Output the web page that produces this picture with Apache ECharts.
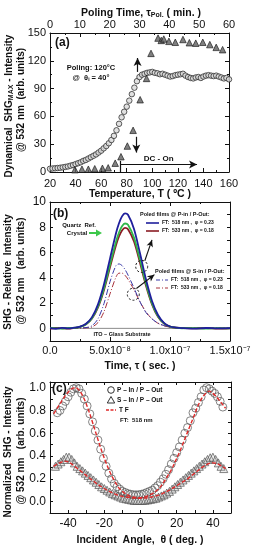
<!DOCTYPE html>
<html><head><meta charset="utf-8">
<script src="https://cdn.jsdelivr.net/npm/echarts@6/dist/echarts.min.js"></script>
<style>html,body{margin:0;padding:0;background:#fff}#c{width:256px;height:550px}</style>
</head><body><div id="c"></div>
<script>
// ---------- Panel (a) : SHG vs temperature ----------
const aTempC = [20,22,24,26,28,30,32,34,36,38,40,42,44,46,48,50,52,54,56,58,60,62,64,66,68,70,72,74,76,78,80,82,84,86,88,90,92,94,96,98,100,102,104,106,108,110,112,114,116,118,120,122,124,126,128,130,132,134,136,138,140,142,144,146,148,150,152,154,156,158,160];
const aCircleSHG = [3.5,3.8,4,4.3,4.6,5,5.5,6,6.8,7.5,8.5,9.5,10.5,12,13,14.5,16,17.5,19,21,23,25.5,28,31,34.5,39,45,52,59,65,70.5,77,84,91,98,102.5,105,106,107,107.5,108,107,106.5,105.5,106,105,104,103,103.5,104.5,105,105.5,106,104,102.5,101.5,101,102,102.5,101.5,103,104,104.5,104,103.5,104,103,102,101,101.5,100];
const aTriTempC = [39.5,45,50,55,61,65.5,71,75.5,80.5,85,90.5,95.5,99,104.5,107,109,113,118,124,129,134,139.5,145,150,155];
const aTriSHG = [2.5,3,3,3.5,4,4.5,9.5,16.5,28,45,78,101,128,144.5,142,143.5,141,140,143,139.5,139,140,137.5,134.5,132];
const aTempTicks = [20,160,20];   // min, max, step
const aTimeTicks = [0,60,10];
const aSHGTicks = [0,150,30];

// ---------- Panel (b) : SHG vs time ----------
const bTimeSec = [0,0.5e-8,1e-8,1.5e-8,2e-8,2.5e-8,3e-8,3.5e-8,4e-8,4.5e-8,5e-8,5.5e-8,5.75e-8,6e-8,6.25e-8,6.5e-8,7e-8,7.5e-8,8e-8,8.5e-8,9e-8,9.5e-8,1e-7,1.05e-7,1.1e-7,1.2e-7,1.3e-7,1.4e-7,1.5e-7];
const bP518 = [0.02,-0.03,0.04,0,0.05,0.13,0.36,0.89,1.9,3.49,5.52,7.53,8.32,8.86,9.1,8.99,7.87,5.94,3.87,2.17,1.06,0.44,0.15,0.06,0.02,-0.02,0.03,0,0.02];
const bQuartz = [0.03,0,-0.02,0.03,0.04,0.12,0.33,0.81,1.73,3.18,5.04,6.86,7.59,8.08,8.3,8.2,7.18,5.42,3.53,1.98,0.96,0.4,0.14,0.05,0.01,0.02,-0.01,0.02,0];
const bP533 = [-0.02,0.03,0.01,-0.02,0.03,0.11,0.32,0.78,1.66,3.04,4.83,6.57,7.27,7.74,7.95,7.85,6.88,5.19,3.38,1.9,0.92,0.38,0.14,0.05,0.03,0,0.02,-0.02,0.01];
const bS518 = [0.05,0.02,0.06,0.03,0.05,0.04,0.06,0.21,0.76,1.97,3.69,4.97,5.1,4.97,4.66,4.22,3.2,2.1,1.25,0.75,0.42,0.22,0.1,0.06,0.04,0.03,0.05,0.02,0.03];
const bS533 = [0.03,0.05,0.02,0.04,0.03,0.02,0.04,0.11,0.46,1.32,2.73,4.06,4.37,4.37,4.2,3.88,3.05,2.1,1.3,0.75,0.4,0.2,0.1,0.06,0.04,0.05,0.03,0.04,0.02];
const bItoTime = [0,1.5e-7];
const bItoSHG = [0,0];

// ---------- Panel (c) : normalized SHG vs incident angle ----------
const cAngleP = [-46,-44.5,-43,-41.5,-40,-38.5,-37,-35.5,-34,-32.5,-31,-29.5,-28,-26.5,-25,-23.5,-22,-20.5,-19,-17.5,-16,-14.5,-13,-11.5,-10,-8.5,-7,-5.5,-4,-2.5,-1,0.5,2,3.5,5,6.5,8,9.5,11,12.5,14,15.5,17,18.5,20,21.5,23,24.5,26,27.5,29,30.5,32,33.5,35,36.5,38,39.5,41,42.5,44,45.5];
const cPinPout = [0.78,0.8,0.84,0.88,0.92,0.96,0.99,1.0,0.99,0.95,0.9,0.84,0.77,0.7,0.62,0.54,0.46,0.38,0.31,0.25,0.2,0.16,0.13,0.11,0.09,0.08,0.07,0.065,0.06,0.06,0.06,0.065,0.07,0.08,0.09,0.1,0.12,0.14,0.17,0.2,0.24,0.28,0.33,0.38,0.43,0.48,0.54,0.6,0.65,0.71,0.78,0.82,0.87,0.92,0.98,1.0,0.99,0.97,0.95,0.92,0.88,0.83];
const cAngleS = [-47,-45.5,-44,-42.5,-41,-39.5,-38,-36.5,-35,-33.5,-32,-30.5,-29,-27.5,-26,-24.5,-23,-21.5,-20,-18.5,-17,-15.5,-14,-12.5,-11,-9.5,-8,-6.5,-5,-3.5,-2,-0.5,1,2.5,4,5.5,7,8.5,10,11.5,13,14.5,16,17.5,19,20.5,22,23.5,25,26.5,28,29.5,31,32.5,34,35.5,37,38.5,40,41.5,43,44.5,46];
const cSinPout = [0.31,0.33,0.35,0.37,0.39,0.39,0.37,0.34,0.31,0.29,0.27,0.25,0.23,0.21,0.19,0.17,0.15,0.13,0.115,0.1,0.085,0.07,0.06,0.05,0.04,0.03,0.025,0.02,0.015,0.01,0.01,0.01,0.01,0.012,0.015,0.02,0.025,0.03,0.04,0.05,0.06,0.075,0.09,0.11,0.13,0.15,0.17,0.19,0.21,0.23,0.25,0.27,0.29,0.31,0.33,0.35,0.37,0.385,0.39,0.37,0.34,0.31,0.29];
const cFitAngle = [-48,-46,-44,-42,-40,-38,-36,-34,-32,-30,-28,-26,-24,-22,-20,-18,-16,-14,-12,-10,-8,-6,-4,-2,0,2,4,6,8,10,12,14,16,18,20,22,24,26,28,30,32,34,36,38,40,42,44,46,47];
const cFitP = [0.77,0.82,0.87,0.92,0.96,0.99,1.0,0.98,0.93,0.86,0.77,0.67,0.57,0.47,0.38,0.3,0.23,0.17,0.12,0.09,0.065,0.05,0.04,0.035,0.035,0.04,0.05,0.065,0.085,0.11,0.15,0.2,0.25,0.31,0.38,0.45,0.53,0.61,0.69,0.77,0.85,0.91,0.95,0.97,0.95,0.92,0.88,0.84,0.82];
const cFitS = [0.31,0.33,0.345,0.355,0.35,0.33,0.305,0.28,0.255,0.23,0.205,0.18,0.155,0.135,0.115,0.097,0.08,0.066,0.055,0.046,0.04,0.035,0.032,0.03,0.03,0.031,0.034,0.04,0.047,0.057,0.07,0.085,0.1,0.12,0.14,0.16,0.18,0.2,0.225,0.25,0.275,0.3,0.32,0.335,0.34,0.335,0.32,0.3,0.29];

const FONT = '"Liberation Sans", Arial, Helvetica, sans-serif';
const zip = (xs, ys) => xs.map((x, i) => [x, ys[i]]);

function axis(o) {
  const base = {
    type: 'value',
    axisLine: { show: true, onZero: false, lineStyle: { color: '#111', width: 1 } },
    axisTick: { show: true, inside: true, length: 4, lineStyle: { color: '#111' } },
    minorTick: { show: true, splitNumber: 2, length: 2, lineStyle: { color: '#111' } },
    splitLine: { show: false },
    axisLabel: { show: true, color: '#111', fontSize: 11, fontFamily: FONT, margin: 4 }
  };
  const r = Object.assign({}, base, o);
  ['axisLine','axisTick','minorTick','axisLabel'].forEach(k => {
    if (o[k]) r[k] = Object.assign({}, base[k], o[k]);
  });
  return r;
}
const noLab = { show: false };
const SUP = { '-': '⁻', '0': '⁰', '1': '¹', '2': '²', '3': '³', '4': '⁴', '5': '⁵', '6': '⁶', '7': '⁷', '8': '⁸', '9': '⁹' };
function sciFmt(v) {
  if (Math.abs(v) < 1e-12) return '0.0';
  const e = Math.floor(Math.log10(v) + 1e-9);
  const m = v / Math.pow(10, e);
  return m.toFixed(1) + 'x10' + String(e).split('').map(c => SUP[c]).join('');
}

const chart = echarts.init(document.getElementById('c'), null, { renderer: 'canvas' });

const grids = [
  { left: 50, top: 33, width: 179, height: 139 },
  { left: 50, top: 202, width: 180, height: 139 },
  { left: 50, top: 382, width: 181, height: 131 }
];

const xAxes = [
  axis({ gridIndex: 0, position: 'bottom', min: aTempTicks[0], max: aTempTicks[1], interval: aTempTicks[2], axisLabel: { margin: 6 } }),
  axis({ gridIndex: 0, position: 'top', min: aTimeTicks[0], max: aTimeTicks[1], interval: aTimeTicks[2], axisLabel: { margin: 3 } }),
  axis({ gridIndex: 1, position: 'bottom', min: 0, max: 1.5e-7, interval: 5e-8, axisLabel: { margin: 4, formatter: sciFmt } }),
  axis({ gridIndex: 1, position: 'top', min: 0, max: 1.5e-7, interval: 5e-8, axisLabel: noLab }),
  axis({ gridIndex: 2, position: 'bottom', min: -50, max: 50, interval: 10, minorTick: { show: false }, axisTick: { length: 3 },
         axisLabel: { fontSize: 12, margin: 5, formatter: v => (Math.round(v) % 20 === 0 && Math.abs(v) <= 40) ? String(Math.round(v)) : '' } }),
  axis({ gridIndex: 2, position: 'top', min: -50, max: 50, interval: 10, minorTick: { show: false }, axisTick: { length: 3 }, axisLabel: noLab })
];
const yAxes = [
  axis({ gridIndex: 0, position: 'left', min: aSHGTicks[0], max: aSHGTicks[1], interval: aSHGTicks[2], axisLabel: { margin: 4 } }),
  axis({ gridIndex: 0, position: 'right', min: aSHGTicks[0], max: aSHGTicks[1], interval: aSHGTicks[2], axisLabel: noLab }),
  axis({ gridIndex: 1, position: 'left', min: -1, max: 10, interval: 1, minorTick: { show: false }, axisTick: { length: 3 },
         axisLabel: { fontSize: 12, margin: 4, formatter: v => (Math.round(v) >= 0 && Math.round(v) % 2 === 0) ? String(Math.round(v)) : '' } }),
  axis({ gridIndex: 1, position: 'right', min: -1, max: 10, interval: 1, minorTick: { show: false }, axisTick: { length: 3 }, axisLabel: noLab }),
  axis({ gridIndex: 2, position: 'left', min: -0.1, max: 1.05, interval: 0.1, minorTick: { show: false }, axisTick: { length: 3 },
         axisLabel: { fontSize: 12, margin: 4, formatter: v => { const r = Math.round(v * 10); return (r >= 0 && r % 2 === 0 && r <= 10) ? (r / 10).toFixed(1) : ''; } } }),
  axis({ gridIndex: 2, position: 'right', min: -0.1, max: 1.05, interval: 0.1, minorTick: { show: false }, axisTick: { length: 3 }, axisLabel: noLab })
];

const arrowLine = { color: '#111', width: 1.2, type: 'solid' };

const series = [
  // (a)
  { type: 'scatter', xAxisIndex: 0, yAxisIndex: 0, data: zip(aTempC, aCircleSHG), symbol: 'circle', symbolSize: 5.5,
    itemStyle: { color: '#d9d9d9', borderColor: '#333', borderWidth: 1 }, z: 3,
    markLine: { silent: true, symbol: ['none', 'arrow'], symbolSize: [6, 8], lineStyle: arrowLine, label: { show: false },
      data: [
        [{ coord: [88.5, 108] }, { coord: [88.5, 123] }],
        [{ coord: [87.5, 38] }, { coord: [87.5, 21] }],
        [{ coord: [75, 0], symbol: 'none' }, { coord: [75, 12], symbol: 'none' }],
        [{ coord: [75, 8] }, { coord: [135, 8], label: { show: true, position: 'middle', formatter: 'DC - On', fontSize: 8, fontWeight: 'bold', fontFamily: FONT, color: '#111', distance: 2 } }]
      ] } },
  { type: 'scatter', xAxisIndex: 0, yAxisIndex: 0, data: zip(aTriTempC, aTriSHG), symbol: 'triangle', symbolSize: 6.5,
    itemStyle: { color: '#5f5f5f', borderColor: '#111', borderWidth: 0.8 }, z: 4 },
  // (b)
  { type: 'line', xAxisIndex: 2, yAxisIndex: 2, data: zip(bItoTime, bItoSHG), showSymbol: false, lineStyle: { color: '#8c8c8c', width: 1 }, z: 1 },
  { type: 'line', xAxisIndex: 2, yAxisIndex: 2, data: zip(bTimeSec, bS533), showSymbol: false, smooth: 0.3, lineStyle: { color: '#a8323c', width: 1, type: [6, 2, 1, 2] }, z: 2 },
  { type: 'line', xAxisIndex: 2, yAxisIndex: 2, data: zip(bTimeSec, bS518), showSymbol: false, smooth: 0.3, lineStyle: { color: '#3a3aa8', width: 1, type: [6, 2, 1, 2] }, z: 2 },
  { type: 'line', xAxisIndex: 2, yAxisIndex: 2, data: zip(bTimeSec, bP533), showSymbol: false, smooth: 0.3, lineStyle: { color: '#8a1c24', width: 1.8 }, z: 3 },
  { type: 'line', xAxisIndex: 2, yAxisIndex: 2, data: zip(bTimeSec, bQuartz), showSymbol: false, smooth: 0.3, lineStyle: { color: '#2fb84a', width: 1.8 }, z: 3 },
  { type: 'line', xAxisIndex: 2, yAxisIndex: 2, data: zip(bTimeSec, bP518), showSymbol: false, smooth: 0.3, lineStyle: { color: '#1f1f9c', width: 1.8 }, z: 4,
    markPoint: { silent: true, symbol: 'circle', symbolSize: 12, label: { show: false },
      itemStyle: { color: 'rgba(0,0,0,0)', borderColor: '#111', borderWidth: 1, borderType: [2, 2] },
      data: [{ coord: [7.64e-8, 4.9] }, { coord: [6.94e-8, 2.7] }] },
    markLine: { silent: true, symbol: ['none', 'arrow'], symbolSize: [5, 7], lineStyle: { color: '#111', width: 1.1, type: 'solid' }, label: { show: false },
      data: [
        [{ coord: [7.9e-8, 5.35] }, { coord: [8.5e-8, 7.0] }],
        [{ coord: [7.2e-8, 3.15] }, { coord: [8.7e-8, 4.25] }]
      ] } },
  // (c)
  { type: 'scatter', xAxisIndex: 4, yAxisIndex: 4, data: zip(cAngleS, cSinPout), symbol: 'triangle', symbolSize: 8,
    itemStyle: { color: 'rgba(190,190,190,0.35)', borderColor: '#555', borderWidth: 0.9 }, z: 2 },
  { type: 'scatter', xAxisIndex: 4, yAxisIndex: 4, data: zip(cAngleP, cPinPout), symbol: 'circle', symbolSize: 8,
    itemStyle: { color: 'rgba(255,255,255,0)', borderColor: '#555', borderWidth: 0.9 }, z: 2 },
  { type: 'line', xAxisIndex: 4, yAxisIndex: 4, data: zip(cFitAngle, cFitP), showSymbol: false, smooth: 0.3, lineStyle: { color: '#e02a2a', width: 1.4, type: [4, 2] }, z: 4 },
  { type: 'line', xAxisIndex: 4, yAxisIndex: 4, data: zip(cFitAngle, cFitS), showSymbol: false, smooth: 0.3, lineStyle: { color: '#e02a2a', width: 1.4, type: [4, 2] }, z: 4 }
];

function txt(x, y, text, size, opts) {
  return Object.assign({ type: 'text', x: x, y: y, z: 50, style: Object.assign({ text: text, fill: '#111', font: 'bold ' + size + 'px ' + FONT, align: 'center', verticalAlign: 'middle' }, (opts && opts.style) || {}) }, (opts && opts.el) || {});
}
function rtxt(x, y, text, size, rich) {
  return { type: 'text', x: x, y: y, z: 50, rotation: Math.PI / 2,
    style: { text: text, fill: '#111', font: 'bold ' + size + 'px ' + FONT, align: 'center', verticalAlign: 'middle', rich: rich || undefined } };
}
const subRich = (size) => ({ n: { fontSize: size, fontWeight: 'bold', fontFamily: FONT, fill: '#111', verticalAlign: 'bottom', lineHeight: size + 3 },
                             s: { fontSize: Math.round(size * 0.65), fontWeight: 'bold', fontFamily: FONT, fill: '#111', verticalAlign: 'bottom', lineHeight: size + 1 } });
function seg(x1, y1, x2, y2, color, w, dash) {
  return { type: 'line', z: 50, shape: { x1: x1, y1: y1, x2: x2, y2: y2 }, style: { stroke: color, lineWidth: w, lineDash: dash || null } };
}

const graphic = [
  // (a)
  { type: 'text', x: 141, y: 12, z: 50, style: { text: '{n|Poling Time, τ}{s|Pol.}{n| ( min. )}', rich: subRich(10.5), align: 'center', verticalAlign: 'middle' } },
  txt(55, 43, '(a)', 12, { style: { align: 'left' } }),
  txt(91, 68, 'Poling: 120°C', 7.5),
  { type: 'text', x: 91, y: 77, z: 50, style: { text: '{n|@  θ}{s|i}{n| = 40°}', rich: subRich(7.5), align: 'center', verticalAlign: 'middle' } },
  txt(140, 194, 'Temperature, T ( ºC )', 10.5),
  { type: 'text', x: 8, y: 106, z: 50, rotation: Math.PI / 2, style: { text: '{n|Dynamical  SHG}{s|MAX}{n| - Intensity}', rich: subRich(10), align: 'center', verticalAlign: 'middle' } },
  rtxt(21, 100, '@ 532 nm  (arb. units)', 10),
  // (b)
  txt(53, 214, '(b)', 12, { style: { align: 'left' } }),
  txt(79, 225, 'Quartz  Ref.', 6),
  txt(77, 233, 'Crystal', 6),
  seg(89, 233, 97, 233, '#3cc84a', 2),
  { type: 'polygon', z: 50, shape: { points: [[96, 229.5], [102, 233], [96, 236.5]] }, style: { fill: '#3cc84a' } },
  txt(140, 214, 'Poled films @ P-in / P-Out:', 5.5, { style: { align: 'left' } }),
  seg(146, 223, 159, 223, '#1f1f9c', 1.6),
  txt(162, 223, 'FT:  518 nm ,  φ = 0.23', 5, { style: { align: 'left' } }),
  seg(146, 231, 159, 231, '#8a1c24', 1.6),
  txt(162, 231, 'FT:  533 nm ,  φ = 0.18', 5, { style: { align: 'left' } }),
  txt(155, 271, 'Poled films @ S-in / P-Out:', 5.5, { style: { align: 'left' } }),
  seg(156, 280, 168, 280, '#3a3aa8', 1, [4, 2, 1, 2]),
  txt(171, 280, 'FT:  518 nm ,  φ = 0.23', 5, { style: { align: 'left' } }),
  seg(156, 288, 168, 288, '#a8323c', 1, [4, 2, 1, 2]),
  txt(171, 288, 'FT:  533 nm ,  φ = 0.18', 5, { style: { align: 'left' } }),
  txt(122, 334, 'ITO – Glass Substrate', 5.5),
  txt(140, 366, 'Time, τ ( sec. )', 10.5),
  rtxt(8, 272, 'SHG - Relative  Intensity', 10),
  rtxt(21, 271, '@ 532 nm   (arb. units)', 10),
  // (c)
  txt(52, 389, '(c)', 12, { style: { align: 'left' } }),
  { type: 'circle', z: 50, shape: { cx: 111, cy: 390, r: 3.3 }, style: { fill: 'none', stroke: '#333', lineWidth: 1 } },
  txt(117, 390, 'P – In / P – Out', 6.5, { style: { align: 'left' } }),
  { type: 'polygon', z: 50, shape: { points: [[111, 396.5], [107.3, 403], [114.7, 403]] }, style: { fill: 'none', stroke: '#333', lineWidth: 1 } },
  txt(117, 400, 'S – In / P – Out', 6.5, { style: { align: 'left' } }),
  seg(106, 410, 116, 410, '#e02a2a', 1.3, [3, 1.5]),
  txt(119, 410, 'T F', 6.5, { style: { align: 'left' } }),
  txt(120, 420, 'FT:  518 nm', 6, { style: { align: 'left' } }),
  txt(140, 540, 'Incident  Angle,  θ ( deg. )', 10.5),
  rtxt(8, 452, 'Normalized  SHG - Intensity', 10),
  rtxt(21, 451, '@ 532 nm   (arb. units)', 10)
];

chart.setOption({
  animation: false,
  backgroundColor: '#fff',
  textStyle: { fontFamily: FONT },
  grid: grids,
  xAxis: xAxes,
  yAxis: yAxes,
  series: series,
  graphic: graphic
});
</script>
</body></html>
